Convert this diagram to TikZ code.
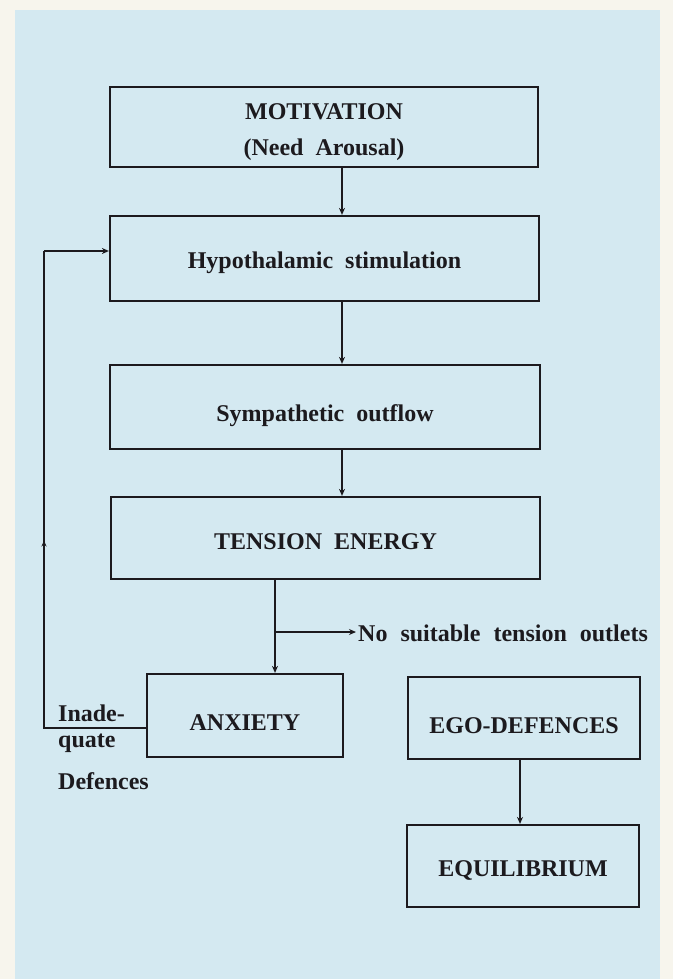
\documentclass[tikz,border=0pt]{standalone}
\usepackage{fontspec}
\setmainfont{Liberation Serif}
\usetikzlibrary{arrows.meta,decorations.markings}
\definecolor{paper}{RGB}{247,245,237}
\definecolor{bluebg}{RGB}{212,233,241}
\definecolor{ink}{RGB}{28,26,30}
\newcommand{\myboxfont}{\fontsize{24}{36}\selectfont\bfseries\spaceskip=12pt plus 2pt\relax}
\newcommand{\mylblfont}{\fontsize{24}{28}\selectfont\bfseries\spaceskip=13pt plus 2pt\relax}
\tikzset{
  boxnode/.style={draw=ink,line width=2.2pt,rectangle,inner sep=0pt,align=center,
    text=ink,font=\myboxfont,text height=20pt,text depth=0pt},
  lbl/.style={inner sep=0pt,text=ink,font=\mylblfont},
  conn/.style={draw=ink,line width=1.3pt},
  arr/.style={conn,-{Stealth[length=7pt,width=6pt]}},
  midup/.style={postaction={decorate},decoration={markings,
    mark=at position 0.5 with {\arrow{Stealth[length=6pt,width=5pt]}}}}
}
\begin{document}
\begin{tikzpicture}[x=1pt,y=-1pt]
\useasboundingbox (0,0) rectangle (673,979);
\fill[paper] (0,0) rectangle (673,979);
\fill[bluebg] (15,10) rectangle (660,979);

% boxes
\node[boxnode,minimum width=428pt,minimum height=80pt] (mot) at (324,127) {};
\node[lbl,align=center,font=\myboxfont] (mottxt) at (324,132) {MOTIVATION\\(Need Arousal)};
\node[boxnode,minimum width=429pt,minimum height=85pt] (hyp) at (324.5,258.5) {Hypothalamic stimulation};
\node[boxnode,minimum width=430pt,minimum height=84pt,text height=28pt] (sym) at (325,407) {Sympathetic outflow};
\node[boxnode,minimum width=429pt,minimum height=82pt,text height=22pt] (ten) at (325.5,538) {TENSION ENERGY};
\node[boxnode,minimum width=196pt,minimum height=83pt,text height=30pt] (anx) at (245,715.5) {ANXIETY};
\node[boxnode,minimum width=232pt,minimum height=82pt,text height=30pt] (ego) at (524,718) {EGO-DEFENCES};
\node[boxnode,minimum width=232pt,minimum height=82pt,text height=20pt] (equ) at (523,866) {EQUILIBRIUM};

% labels
\node[lbl,anchor=west] (nst) at (358,633) {No suitable tension outlets};
\node[lbl,anchor=west] (ia) at (58,713) {Inade-};
\node[lbl,anchor=west] (ib) at (58,743) {quate};
\node[lbl,anchor=west] (ic) at (58,781) {Defences};

% helper coordinates
\coordinate (c1) at (342,0);
\coordinate (c2) at (275,0);
\coordinate (c3) at (520,0);
\coordinate (br) at (275,632);
\coordinate (lx) at (44,0);
\coordinate (ly1) at (0,728);
\coordinate (ly2) at (0,251);

% vertical arrows
\draw[arr] (mot.south -| c1) -- (hyp.north -| c1);
\draw[arr] (hyp.south -| c1) -- (sym.north -| c1);
\draw[arr] (sym.south -| c1) -- (ten.north -| c1);
\draw[arr] (ten.south -| c2) -- (anx.north -| c2);
\draw[arr] (br) -- ([xshift=-2pt]br -| nst.west);
\draw[arr] (ego.south -| c3) -- (equ.north -| c3);

% feedback loop
\draw[conn,midup] (anx.west |- ly1) -- (lx |- ly1) -- (lx |- ly2);
\draw[arr] (lx |- ly2) -- (hyp.west |- ly2);
\end{tikzpicture}
\end{document}
